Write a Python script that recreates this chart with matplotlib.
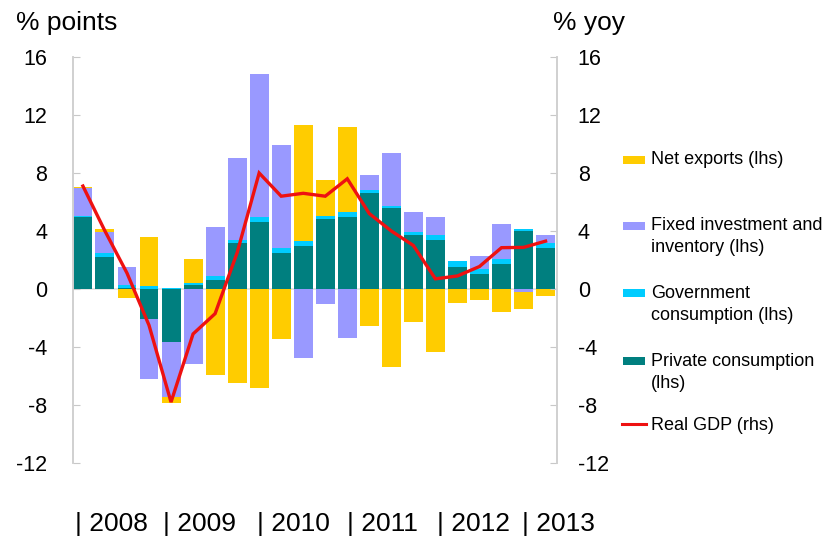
import matplotlib
matplotlib.use("Agg")
import matplotlib.pyplot as plt
import numpy as np
from matplotlib.patches import Rectangle
from matplotlib.lines import Line2D

plt.rcParams['font.family'] = ['Liberation Sans', 'DejaVu Sans']

quarters = ["2008Q1", "2008Q2", "2008Q3", "2008Q4", "2009Q1", "2009Q2", "2009Q3", "2009Q4",
            "2010Q1", "2010Q2", "2010Q3", "2010Q4", "2011Q1", "2011Q2", "2011Q3", "2011Q4",
            "2012Q1", "2012Q2", "2012Q3", "2012Q4", "2013Q1", "2013Q2"]
private_cons = [5.0, 2.2, 0.1, -2.1, -3.65, 0.25, 0.6, 3.2, 4.6, 2.5, 3.0, 4.8, 5.0, 6.6, 5.6, 3.7,
                3.4, 1.55, 1.05, 1.75, 4.0, 2.85]
gov_cons = [0.05, 0.3, 0.15, 0.2, 0.1, 0.15, 0.3, 0.2, 0.4, 0.3, 0.3, 0.25, 0.3, 0.25, 0.15, 0.2,
            0.3, 0.35, 0.35, 0.3, 0.15, 0.3]
investment = [1.9, 1.4, 1.3, -4.1, -3.8, -5.2, 3.4, 5.65, 9.8, 7.1, -4.75, -1.0, -3.35, 1.0, 3.6, 1.4,
              1.3, 0.0, 0.9, 2.45, -0.2, 0.6]
net_exports = [0.1, 0.25, -0.6, 3.4, -0.4, 1.7, -5.9, -6.5, -6.85, -3.45, 8.0, 2.5, 5.9, -2.55, -5.4, -2.25,
               -4.35, -0.95, -0.75, -1.6, -1.2, -0.45]
real_gdp = [7.1, 4.0, 1.1, -2.5, -7.8, -3.1, -1.7, 2.5, 8.0, 6.4, 6.6, 6.4, 7.6, 5.2, 4.0, 3.0,
            0.7, 0.9, 1.55, 2.85, 2.87, 3.3]
year_labels = ["| 2008", "| 2009", "| 2010", "| 2011", "| 2012", "| 2013"]
yticks = [-12, -8, -4, 0, 4, 8, 12, 16]

series = [
    ("Private consumption (lhs)", private_cons, "#007F7F"),
    ("Government consumption (lhs)", gov_cons, "#00CCFF"),
    ("Fixed investment and inventory (lhs)", investment, "#9999FF"),
    ("Net exports (lhs)", net_exports, "#FFCC00"),
]
gdp_color = "#EE1111"

W, H = 828, 542
fig = plt.figure(figsize=(W / 100, H / 100), dpi=100)
ax = fig.add_axes([73 / W, 1 - 463 / H, (557 - 73) / W, (463 - 57) / H])

x = np.arange(len(quarters))
pos = np.zeros(len(x))
neg = np.zeros(len(x))
ax.axhline(0, color="#E0E0E0", lw=1.2, zorder=1)
for name, vals, col in series:
    v = np.array(vals, dtype=float)
    bottom = np.where(v >= 0, pos, neg)
    ax.bar(x, v, bottom=bottom, width=0.86, color=col, zorder=2, linewidth=0)
    pos = pos + np.where(v >= 0, v, 0)
    neg = neg + np.where(v < 0, v, 0)

ax.set_ylim(-12, 16)
ax.set_xlim(-0.45, 21.52)
ax.set_yticks(yticks)
ax.set_yticklabels([str(t) for t in yticks])

ax2 = ax.twinx()
ax2.plot(x, real_gdp, color=gdp_color, lw=2.4, zorder=5, solid_joinstyle='miter')
ax2.set_ylim(-12, 16)
ax2.set_yticks(yticks)
ax2.set_yticklabels([str(t) for t in yticks])

for a in (ax, ax2):
    for s in ("top", "bottom"):
        a.spines[s].set_visible(False)
    a.spines["left"].set_color("#D0D0D0")
    a.spines["right"].set_color("#D0D0D0")
    a.spines["left"].set_linewidth(1.2)
    a.spines["right"].set_linewidth(1.2)
    a.set_xlim(-0.45, 21.52)

ax.tick_params(axis='y', direction='in', length=5, color="#C8C8C8", labelsize=15.5, pad=18.5)
ax2.tick_params(axis='y', direction='in', length=5, color="#C8C8C8", labelsize=15.5, pad=15)

year_pos = [-0.36, 3.64, 7.9, 11.99, 16.08, 19.94]
ax.set_xticks(year_pos)
ax.set_xticklabels(year_labels, ha='left')
ax.tick_params(axis='x', length=0, labelsize=19, pad=35)

fig.text(16 / W, 1 - 30 / H, "% points", fontsize=19, va='baseline', ha='left')
fig.text(553 / W, 1 - 30 / H, "% yoy", fontsize=19, va='baseline', ha='left')

# legend (manual)
lx0, lx1, tx = 623, 645.5, 651
entries = [
    ("Net exports (lhs)", None, "#FFCC00", 160),
    ("Fixed investment and", "inventory (lhs)", "#9999FF", 226),
    ("Government", "consumption (lhs)", "#00CCFF", 293),
    ("Private consumption", "(lhs)", "#007F7F", 361),
]
for l1, l2, col, yc in entries:
    fig.patches.append(Rectangle((lx0 / W, 1 - (yc + 4.3) / H), (lx1 - lx0) / W, 8.6 / H,
                                 transform=fig.transFigure, facecolor=col, edgecolor='none'))
    fig.text(tx / W, 1 - yc / H, l1, fontsize=13, va='center', ha='left')
    if l2:
        fig.text(tx / W, 1 - (yc + 22) / H, l2, fontsize=13, va='center', ha='left')
fig.lines.append(Line2D([622 / W, 646.5 / W], [1 - 423.5 / H, 1 - 423.5 / H], transform=fig.transFigure,
                        color=gdp_color, lw=2.2))
fig.text(tx / W, 1 - 425 / H, "Real GDP (rhs)", fontsize=13, va='center', ha='left')

fig.savefig("out.png", dpi=100, facecolor='white')
